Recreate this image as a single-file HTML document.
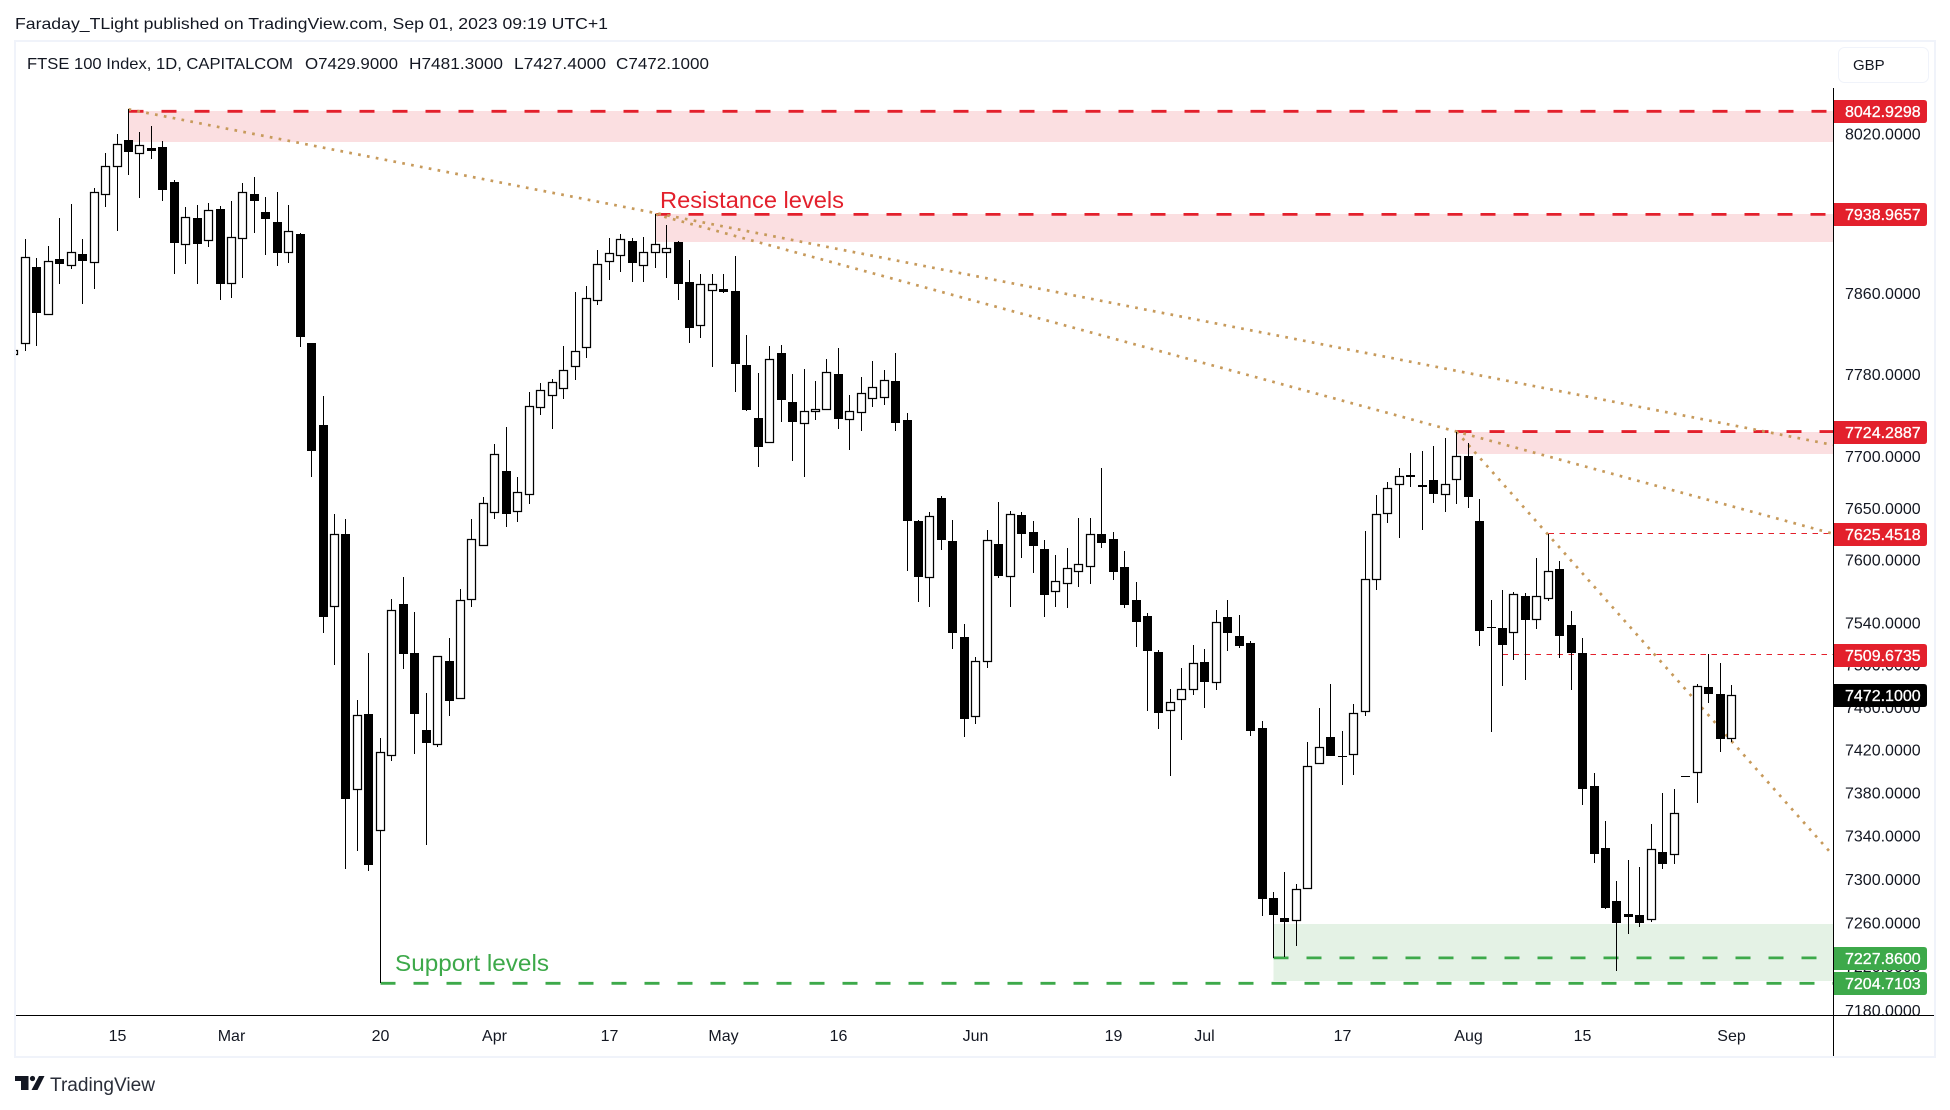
<!DOCTYPE html>
<html lang="en">
<head>
<meta charset="utf-8">
<title>FTSE 100 Index chart</title>
<style>
html,body{margin:0;padding:0;background:#fff;}
svg{display:block;font-family:"Liberation Sans",sans-serif;}
</style>
</head>
<body>
<svg id="chart" xmlns="http://www.w3.org/2000/svg" width="1950" height="1110" viewBox="0 0 1950 1110">
  <defs>
    <clipPath id="pane-clip"><rect x="16" y="42" width="1817" height="973"/></clipPath>
  </defs>
  <rect x="0" y="0" width="1950" height="1110" fill="#ffffff"/>
  <text x="15" y="29" font-size="16" fill="#131722" textLength="593" lengthAdjust="spacingAndGlyphs">Faraday_TLight published on TradingView.com, Sep 01, 2023 09:19 UTC+1</text>
  <rect x="15" y="41" width="1920" height="1016" fill="none" stroke="#f0f3fa" stroke-width="2"/>
  <g id="pane" clip-path="url(#pane-clip)"></g>
  <g id="price-axis"></g>
  <g id="time-axis"></g>
  <rect x="1833" y="88" width="1" height="968" fill="#000"/>
  <rect x="16" y="1015" width="1918" height="1" fill="#000"/>
  <g font-size="16" fill="#131722">
    <text x="27" y="69" textLength="266" lengthAdjust="spacingAndGlyphs">FTSE 100 Index, 1D, CAPITALCOM</text>
    <text x="305" y="69" textLength="93" lengthAdjust="spacingAndGlyphs">O7429.9000</text>
    <text x="409" y="69" textLength="94" lengthAdjust="spacingAndGlyphs">H7481.3000</text>
    <text x="514" y="69" textLength="92" lengthAdjust="spacingAndGlyphs">L7427.4000</text>
    <text x="616" y="69" textLength="93" lengthAdjust="spacingAndGlyphs">C7472.1000</text>
  </g>
  <g>
    <rect x="1838.5" y="47.5" width="90" height="35" rx="6" fill="#fff" stroke="#f0f3fa" stroke-width="1"/>
    <text x="1853" y="70" font-size="15" fill="#131722">GBP</text>
  </g>
  <g fill="#131722">
    <polygon points="15,1076 28.5,1076 28.5,1090 21,1090 21,1081 15,1081"/>
    <circle cx="32.5" cy="1078.5" r="2.6"/>
    <polygon points="39,1076 44.5,1076 37.5,1090 31.5,1090"/>
    <text x="50" y="1091" font-size="19" fill="#2a2e39" textLength="105" lengthAdjust="spacingAndGlyphs">TradingView</text>
  </g>
</svg>
<script>
// ---------- chart data (prices in GBP, first entry is the clipped bar at the left edge) ----------
const opens = [7799,
7810,7886,7838.5,7894,7887,7899,7890,7958,7987,8014,
8000,8006,8007,7971,7908,7935,7912,7944,7870,7914,
7959,7941,7931,7900,7919,7811,7731,7555,7625,7383,
7454,7344.6,7414,7558,7511.6,7438.7,7424.5,7504,7468,7561.5,
7614,7645,7686,7646,7663,7747,7759,7766,7788,7806,
7853,7891,7897,7912,7887,7900,7900,7911,7872,7828,
7863,7865,7863,7789,7738,7713,7801,7753,7731.6,7743,
7745,7781,7736,7742,7756,7757,7773.6,7735.5,7638,7582.7,
7660,7618,7527,7451,7503,7615.6,7583.7,7643,7627,7610.8,
7569,7577,7588.5,7593,7625,7620,7593,7561.5,7546.6,7512,
7457,7466.7,7476,7502.7,7483,7546,7527.4,7520.7,7440.5,7282.5,
7264.5,7261.4,7290.8,7406.8,7432,7414.3,7415,7456,7580.8,7644,
7672,7680,7672,7677,7663,7677,7701,7637.4,7536,7535,
7530,7566,7543,7563,7591.3,7537.8,7511.3,7386,7328.7,7279.7,
7267.8,7267,7262.9,7325,7322,7395.5,7398.3,7479,7473,7429.9];
const highs = [7804,
7914,7895,7907,7935,7949,7914,7965.5,8001,8020,8045,
8022,8028,8013,7973,7946,7948,7950,7947,7952,7970,
7977,7956,7961,7948,7920,7811,7759,7644,7640,7467,
7511.6,7431,7563,7584,7550.5,7473.7,7509,7525.6,7572,7639.6,
7660.7,7712.4,7729,7680,7763,7772,7776,7808,7862,7868,
7903,7915,7919,7915,7916,7939,7928,7912,7893,7879,
7879,7879,7897,7819,7782,7808,7809,7781,7786,7774,
7795,7806,7760,7778,7793,7785,7801,7742,7639,7646,
7661.5,7639,7539,7507.8,7629,7656,7647,7646,7637.7,7619.5,
7605,7611.8,7640.6,7640.6,7689,7627,7609,7579,7549,7514,
7477,7497.3,7519,7515.3,7552,7562,7547.6,7523,7447,7288,
7306.8,7296,7427.6,7459.5,7482,7438,7463,7628,7662.8,7675.4,
7689,7703,7705,7710,7718,7724.3,7713,7658.9,7561.8,7571.4,
7569.5,7568.5,7602,7625,7599.3,7551,7525.8,7398.6,7353.9,7298.5,
7317.9,7311.4,7351,7379.5,7384,7395.5,7482,7510.6,7502,7481.3];
const lows = [7799,
7803,7808,7838.5,7870,7884,7850,7865,7946,7922,7979,
7955,7995,7952,7879,7889,7870,7906,7854,7856,7875,
7920,7898,7887,7890,7807.6,7680,7530,7500.5,7309,7326,
7308,7204.7,7410,7496,7416,7331.4,7423,7451.7,7468,7555.6,
7614,7640,7632,7637,7654,7740,7727,7756.5,7775,7796,
7849,7873,7881,7872,7872,7885,7875,7854,7811,7816.5,
7788,7861,7762.5,7744,7689.5,7713,7734,7696,7680,7736,
7745,7727,7706,7725,7748,7750.6,7725,7589.8,7560,7555,
7610,7515.6,7432.6,7444.8,7497.6,7583,7555.4,7602.4,7588,7546,
7555.4,7554.5,7574.6,7577.5,7612,7581,7554.5,7517.5,7457,7440,
7395.4,7429,7472,7459,7476.6,7513.7,7516.6,7433.6,7266.5,7227.6,
7229,7239,7290.8,7406.8,7414,7387,7397,7452.3,7571.7,7636,
7621.7,7670,7629,7655,7646,7654,7650.5,7518.5,7437.3,7480,
7505,7486,7534.6,7561,7507,7476.6,7369,7315.4,7273,7216.3,
7250,7256.5,7261,7309,7314.4,7395.5,7370.8,7464.5,7418.5,7427.4];
const closes = [7804,
7896,7841,7892,7889,7901,7892,7961,7988,8010,8002,
8009,8003,7963,7910,7936,7909,7943,7870,7916,7961,
7952,7934,7900,7922,7817.5,7705,7546,7625,7373.9,7452.6,
7313,7418,7552.7,7510,7454,7427,7509,7466,7562,7620,
7654.6,7702.7,7644.7,7666,7749,7765,7773,7785,7803,7856,
7889,7900,7914,7890,7901,7909,7905,7870,7826,7870,
7870,7862,7790,7745,7709,7795,7755.5,7734,7744,7746,
7783,7737,7744,7762,7768,7774.6,7733,7637.7,7584,7642,
7619,7530.8,7449.5,7503.7,7619,7585,7644,7625.5,7614,7567,
7580,7592,7596,7625,7616,7589,7557,7541,7513.7,7455,
7465,7477,7501.8,7484.4,7540.7,7530,7518.5,7438,7282,7267.5,
7261,7290.8,7405,7422.7,7414,7414.3,7454.5,7581.8,7644,7669,
7681,7682,7670,7664,7673,7701,7661,7532.7,7536,7519,
7567.4,7543,7566,7590,7528,7511,7383.9,7322.8,7273.9,7260,
7265.6,7260,7327.7,7314.4,7361,7395.5,7480,7473,7430.7,7472.1];

const priceTicks = [8020,7940,7860,7780,7700,7650,7600,7540,7500,7460,7420,7380,7340,7300,7260,7220,7180];
const timeTickBars = [9,19,32,42,52,62,72,84,96,104,116,127,137,150];
const timeTickLabels = ['15','Mar','20','Apr','17','May','16','Jun','19','Jul','17','Aug','15','Sep'];

const redLevels = [8042.9298,7938.9657,7724.2887];
const redLevelStartBars = [10,56,126];
const redThinLevels = [7625.4518,7509.6735];
const redThinStartBars = [134,130];
const greenLevels = [7227.86,7204.7103];
const greenLevelStartBars = [110,32];
const lastPrice = [7472.1];

const redZoneStartBars = [10,56,126];
const redZoneTops = [8042.9298,7938.9657,7724.2887];
const redZoneBottoms = [8012.3,7911.7,7702];
const greenZoneStartBars = [110];
const greenZoneTops = [7258.9];
const greenZoneBottoms = [7207.1];

const trendFromBars = [10,56,126];
const trendFromPrices = [8045,7939,7724.2887];
const trendToBars = [56,126,134];
const trendToPrices = [7940.3,7724.2887,7624];

// ---------- axis functions ----------
function yOf(price){ return 983.3 - 7923 * Math.log(price / 7204.71); }
function xPixel(bar){ return Math.floor(13.95 + 11.45 * bar); }
function xOf(bar){ return xPixel(bar) + 0.5; }

const NS = 'http://www.w3.org/2000/svg';
const paneRight = 1833;
const pane = document.getElementById('pane');
const priceAxis = document.getElementById('price-axis');
const timeAxis = document.getElementById('time-axis');
function make(tag, parent, attrs){
  const n = document.createElementNS(NS, tag);
  for (const k in attrs) n.setAttribute(k, attrs[k]);
  parent.appendChild(n);
  return n;
}

// ---------- zones ----------
redZoneTops.forEach(function(p, i){
  const top = Math.round(yOf(p));
  const el = make('rect', pane, {x: xOf(redZoneStartBars[i]), y: top, width: paneRight - xOf(redZoneStartBars[i]), height: Math.round(yOf(redZoneBottoms[i])) - top, fill: '#fbdfe1'});
  
  
});
greenZoneTops.forEach(function(p, i){
  const top = Math.round(yOf(p));
  const el = make('rect', pane, {x: xOf(greenZoneStartBars[i]), y: top, width: paneRight - xOf(greenZoneStartBars[i]), height: Math.round(yOf(greenZoneBottoms[i])) - top, fill: '#e4f2e5'});
  
  
});

// ---------- horizontal levels ----------
redLevels.forEach(function(p, i){
  const y = yOf(p);
  const el = make('line', pane, {x1: xOf(redLevelStartBars[i]), x2: paneRight, y1: y, y2: y, stroke: '#e3202c', 'stroke-width': 2.8, 'stroke-dasharray': '15 18'});
  
  
});
redThinLevels.forEach(function(p, i){
  const y = Math.floor(yOf(p)) + 0.5;
  const el = make('line', pane, {x1: xOf(redThinStartBars[i]), x2: paneRight, y1: y, y2: y, stroke: '#e3202c', 'stroke-width': 1, 'stroke-dasharray': '5.5 5.5'});
  
  
});
greenLevels.forEach(function(p, i){
  const y = yOf(p);
  const el = make('line', pane, {x1: xOf(greenLevelStartBars[i]), x2: paneRight, y1: y, y2: y, stroke: '#3da94a', 'stroke-width': 2.8, 'stroke-dasharray': '15 18'});
  
  
});

// ---------- trend lines ----------
trendFromBars.forEach(function(b, i){
  const x1 = xOf(b), y1 = yOf(trendFromPrices[i]);
  const x2 = xOf(trendToBars[i]), y2 = yOf(trendToPrices[i]);
  const slope = (y2 - y1) / (x2 - x1);
  const el = make('line', pane, {x1: x1, y1: y1, x2: paneRight, y2: y1 + slope * (paneRight - x1), stroke: '#c79a5b', 'stroke-width': 2.7, 'stroke-dasharray': '2.7 6.3'});
  
  
});

// ---------- candles ----------
opens.forEach(function(o, i){
  const c = closes[i];
  const px = xPixel(i);
  const hi = Math.round(yOf(highs[i]));
  const lo = Math.round(yOf(lows[i]));
  const top = Math.round(yOf(Math.max(o, c)));
  const bot = Math.round(yOf(Math.min(o, c)));
  const g = make('g', pane, {});
  
  
  const wick = make('rect', g, {x: px, y: hi, width: 1, height: Math.max(lo - hi, 1), fill: '#000'});
  
  
  const h = Math.max(bot - top, 1);
  let body;
  if (c >= o && h >= 3) {
    body = make('rect', g, {x: px - 3.5, y: top + 0.5, width: 8, height: h - 1, fill: '#fff', stroke: '#000', 'stroke-width': 1.25});
  } else {
    body = make('rect', g, {x: px - 4, y: top, width: 9, height: h, fill: '#000'});
  }
  
  
});

// ---------- annotations ----------
const resistanceText = make('text', pane, {x: 660, y: 208, 'font-size': 23, fill: '#e3202c', textLength: 184, lengthAdjust: 'spacingAndGlyphs'});
resistanceText.textContent = 'Resistance levels';


const supportText = make('text', pane, {x: 395, y: 976, 'font-size': 23, fill: '#3da94a', textLength: 154, lengthAdjust: 'spacingAndGlyphs', transform: 'translate(0,-5)'});
supportText.textContent = 'Support levels';



// ---------- price axis ----------
priceTicks.forEach(function(p){
  const t = make('text', priceAxis, {x: 1845, y: yOf(p) + 5.6, 'font-size': 16, fill: '#131722'});
  t.textContent = p.toFixed(4);
  
  
});
function priceTag(price, color){
  const cy = Math.round(yOf(price)) + 0.5;
  const t = cy - 11.5, b = cy + 11.5;
  const tag = make('path', priceAxis, {d: 'M1833 ' + t + 'H1924q3 0 3 3V' + (b - 3) + 'q0 3 -3 3H1833Z', fill: color});
  
  
  const label = make('text', priceAxis, {x: 1845, y: cy + 5.6, 'font-size': 16, fill: '#fff', stroke: '#fff', 'stroke-width': 0.3});
  label.textContent = price.toFixed(4);
  
  
}
redLevels.forEach(function(p){ priceTag(p, '#e3202c'); });
redThinLevels.forEach(function(p){ priceTag(p, '#e3202c'); });
lastPrice.forEach(function(p){ priceTag(p, '#000000'); });
greenLevels.forEach(function(p){ priceTag(p, '#3da94a'); });

// ---------- time axis ----------
timeTickBars.forEach(function(b, i){
  const t = make('text', timeAxis, {x: xOf(b), y: 1041, 'font-size': 16, fill: '#131722', 'text-anchor': 'middle'});
  t.textContent = timeTickLabels[i];
  
  
});
</script>
</body>
</html>
